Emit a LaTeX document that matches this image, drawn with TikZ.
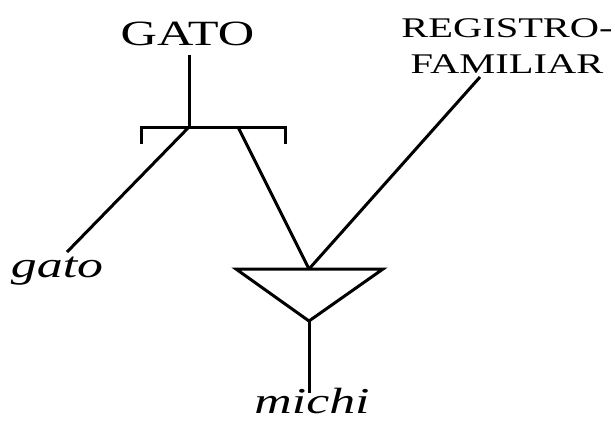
\documentclass[tikz,border=0pt]{standalone}
\usepackage{fontspec}
\setmainfont{Liberation Serif}[FakeStretch=1.42]
\begin{document}
\begin{tikzpicture}[x=1pt,y=-1pt,
  ln/.style={line width=3pt, line join=miter},
  lbl/.style={inner sep=0pt, outer sep=0pt}]
\useasboundingbox (0,0) rectangle (615,421);
% labels
\node[lbl, anchor=base, font=\fontsize{35.5}{36}\selectfont] (GATO) at (187.5,45) {GATO};
\node[lbl, anchor=north, align=center, font=\fontsize{28.5}{36}\selectfont] (REG) at (507,19) {REGISTRO-\\FAMILIAR};
\node[lbl, anchor=base, font=\fontsize{36.5}{36}\selectfont\itshape] (gato) at (57,277) {gato};
\node[lbl, anchor=base, font=\fontsize{36.5}{36}\selectfont\itshape] (michi) at (312,413) {michi};
% coordinates
\coordinate (stemtop) at (189,55);
\coordinate (j1) at (189,127);
\coordinate (j2) at (238,127);
\coordinate (bl) at (141,127);
\coordinate (blb) at (141,144);
\coordinate (br) at (285,127);
\coordinate (brb) at (285,144);
\coordinate (gatoend) at (67,252);
\coordinate (regend) at (480,77);
\coordinate (tl) at (236,269);
\coordinate (tr) at (383,269);
\coordinate (tm) at (309,269);
\coordinate (apex) at (309,321);
\coordinate (michitop) at (309,393);
% drawing
\draw[ln] (stemtop) -- (j1);
\draw[ln] (blb) -- (bl) -- (br) -- (brb);
\draw[ln] (j1) -- (gatoend);
\draw[ln] (j2) -- (tm);
\draw[ln] (regend) -- (tm);
\draw[ln] (tl) -- (tr) -- (apex) -- cycle;
\draw[ln] (apex) -- (michitop);
\end{tikzpicture}
\end{document}
